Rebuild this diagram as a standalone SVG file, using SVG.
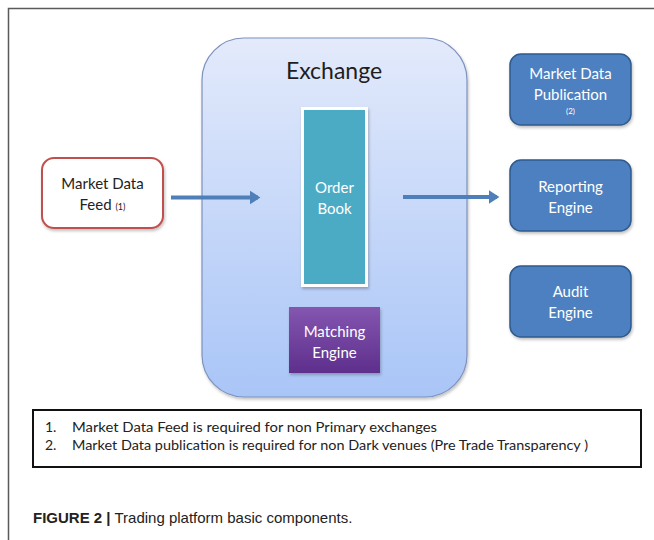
<svg xmlns="http://www.w3.org/2000/svg" width="654" height="540" viewBox="0 0 654 540">
<defs>
<linearGradient id="exg" x1="0" y1="0" x2="0" y2="1">
<stop offset="0" stop-color="#e3eafb"/>
<stop offset="1" stop-color="#a9c5f7"/>
</linearGradient>
<linearGradient id="mg" x1="0" y1="0" x2="0" y2="1">
<stop offset="0" stop-color="#8456b0"/>
<stop offset="1" stop-color="#5e2f8c"/>
</linearGradient>
<filter id="sh" x="-10%" y="-10%" width="130%" height="130%">
<feDropShadow dx="1" dy="2" stdDeviation="1.5" flood-color="#000" flood-opacity="0.25"/>
</filter>
<marker id="ah" markerWidth="4" markerHeight="4" refX="2" refY="2" orient="auto" markerUnits="strokeWidth">
<path d="M0,0.3 L2.6,2 L0,3.7 Z" fill="#4f7fb8"/>
</marker>
</defs>
<style>
.t{font-family:Lato,"Open Sans","Liberation Sans",sans-serif;text-anchor:middle}
.w{fill:#ffffff;font-size:15px}
.blue{fill:#4d80c0;stroke:#2f5a8e;stroke-width:1.5}
.conn{stroke:#4f7fb8;stroke-width:4;fill:none;marker-end:url(#ah)}
.note{font-family:Lato,"Open Sans","Liberation Sans",sans-serif;font-size:14px;fill:#222}
</style>
<rect width="654" height="540" fill="#ffffff"/>
<path d="M8.5,540 V8.5 H654" fill="none" stroke="#5a5a5a" stroke-width="1.5"/>

<g id="exchange">
<rect x="202" y="38" width="265" height="359" rx="42" fill="url(#exg)" stroke="#7d92bd" stroke-width="1.2" filter="url(#sh)"/>
<text class="t" x="334" y="79" font-size="23" fill="#1e1e1e">Exchange</text>
</g>

<g id="order-book">
<rect x="301" y="107" width="67" height="180" fill="#ffffff" filter="url(#sh)"/>
<rect x="304" y="110" width="61" height="174" fill="#4babc5"/>
<text class="t w" x="334.5" y="193" fill="#e6f5f8">Order</text>
<text class="t w" x="334.5" y="214" fill="#e6f5f8">Book</text>
</g>

<g id="matching-engine">
<rect x="289" y="307" width="91" height="66" fill="url(#mg)" filter="url(#sh)"/>
<text class="t w" x="334.5" y="337">Matching</text>
<text class="t w" x="334.5" y="358">Engine</text>
</g>

<g id="market-data-feed">
<rect x="42" y="158" width="121" height="70" rx="12" fill="#ffffff" stroke="#c0504d" stroke-width="2" filter="url(#sh)"/>
<text class="t" x="102.5" y="189" font-size="15" fill="#222">Market Data</text>
<text class="t" x="102.5" y="210" font-size="15" fill="#222">Feed <tspan font-size="9">(1)</tspan></text>
</g>

<g id="market-data-publication">
<rect x="510" y="54" width="121" height="71" rx="11" class="blue" filter="url(#sh)"/>
<text class="t w" x="570.5" y="79">Market Data</text>
<text class="t w" x="570.5" y="100">Publication</text>
<text class="t" x="570.5" y="114" font-size="8" fill="#ffffff">(2)</text>
</g>

<g id="reporting-engine">
<rect x="510" y="160" width="121" height="71" rx="11" class="blue" filter="url(#sh)"/>
<text class="t w" x="570.5" y="192">Reporting</text>
<text class="t w" x="570.5" y="213">Engine</text>
</g>

<g id="audit-engine">
<rect x="510" y="266" width="121" height="71" rx="11" class="blue" filter="url(#sh)"/>
<text class="t w" x="570.5" y="297">Audit</text>
<text class="t w" x="570.5" y="318">Engine</text>
</g>

<g id="connectors">
<line class="conn" x1="171" y1="197.5" x2="258" y2="197.5"/>
<line class="conn" x1="403" y1="197" x2="497" y2="197"/>
</g>

<g id="notes">
<rect x="33" y="410" width="608" height="57" fill="#ffffff" stroke="#111" stroke-width="2"/>
<text class="note" x="45" y="432">1.</text>
<text class="note" x="72" y="432" textLength="365" lengthAdjust="spacingAndGlyphs">Market Data Feed is required for non Primary exchanges</text>
<text class="note" x="45" y="450">2.</text>
<text class="note" x="72" y="450" textLength="516" lengthAdjust="spacingAndGlyphs">Market Data publication is required for non Dark venues (Pre Trade Transparency )</text>
</g>

<text x="33" y="523" font-family="'Liberation Sans',Arial,sans-serif" font-size="15" fill="#222"><tspan font-weight="bold">FIGURE 2 |</tspan> Trading platform basic components.</text>
</svg>
